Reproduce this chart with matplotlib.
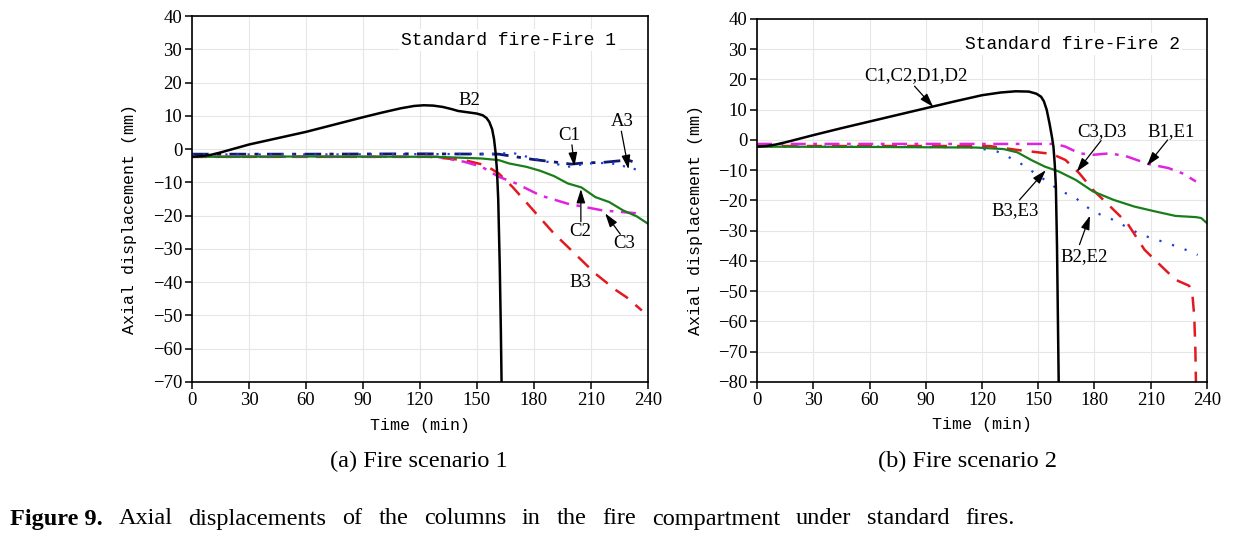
import matplotlib
matplotlib.use("Agg")
import matplotlib.pyplot as plt
import numpy as np

# ---- data: Fire scenario 1 (left) ----
t_b2_1 = [0, 5, 10, 15, 20, 25, 30, 45, 60, 75, 90, 100, 110, 117, 122, 127, 132, 137, 140,
          145, 150, 153, 155, 156.5, 158, 159, 159.8, 160.5, 161.2, 162, 162.6, 163]
v_b2_1 = [-2.3, -2.1, -1.7, -1.0, -0.2, 0.6, 1.4, 3.3, 5.2, 7.4, 9.6, 11.0, 12.3, 13.0, 13.2, 13.1,
          12.7, 12.0, 11.5, 11.1, 10.7, 10.2, 9.4, 8.2, 6.0, 3.0, -1.0, -6.0, -15.0, -35.0, -55.0, -72.0]

t_a3_1 = [0, 60, 120, 161.5, 170.6, 179.7, 190, 199.6, 206.9, 216, 225, 229.6, 235]
v_a3_1 = [-1.5, -1.5, -1.4, -1.5, -2.3, -3.1, -3.8, -4.5, -4.1, -4.0, -3.5, -3.3, -4.3]

t_c1_1 = [0, 60, 120, 160, 168.8, 179.7, 190, 197.8, 208.7, 219.6, 228.7, 235]
v_c1_1 = [-1.6, -1.6, -1.5, -1.4, -1.1, -2.8, -4.2, -5.3, -4.3, -4.1, -5.3, -6.3]

t_c2_1 = [0, 60, 128.9, 152.5, 161.5, 167, 176, 183.3, 190.6, 197.8, 205, 212.3, 219.6, 226.9, 234.1, 240]
v_c2_1 = [-2.3, -2.2, -2.3, -2.8, -3.3, -4.3, -5.3, -6.5, -8.1, -10.3, -11.5, -14.4, -15.9, -18.4, -20.2, -22.4]

t_c3_1 = [0, 60, 129, 143.4, 152.5, 161.5, 170.6, 183.3, 197.8, 216, 236.8]
v_c3_1 = [-2.3, -2.3, -2.3, -3.8, -5.3, -8.3, -10.3, -13.9, -16.4, -18.4, -19.4]

t_b3_1 = [0, 60, 125, 143.4, 154.3, 161.5, 168.8, 179.7, 190.6, 201.5, 212.3, 223.2, 228.7, 236.8]
v_b3_1 = [-2.3, -2.3, -2.3, -3.3, -4.8, -7.3, -11.4, -18.4, -25.4, -31.4, -37.4, -42.4, -44.5, -48.5]

# ---- data: Fire scenario 2 (right) ----
t_c1_2 = [0, 5, 10, 15, 20, 30, 45, 60, 75, 90, 105, 120, 130, 138, 145, 149, 151.5, 153,
          154.5, 156, 157.3, 158.1, 158.8, 159.4, 160, 160.5, 160.9]
v_c1_2 = [-2.2, -2.0, -1.5, -0.8, 0.0, 1.6, 3.9, 6.1, 8.3, 10.5, 12.7, 14.8, 15.7, 16.1, 16.0, 15.3,
          14.3, 12.8, 10.0, 5.5, 1.0, -2.2, -8.0, -15.4, -35.0, -60.0, -80.0]

t_b1_2 = [0, 60, 120, 159, 164.5, 171.9, 179.2, 188.4, 197.5, 208.5, 219.5, 226.8, 234.1]
v_b1_2 = [-1.3, -1.3, -1.3, -1.3, -2.2, -4.4, -4.9, -4.4, -5.5, -7.9, -9.3, -11.0, -13.7]

t_c3_2 = [0, 60, 124, 138.9, 157.2, 164.5, 171.9, 179.2, 188.4, 197.5, 206.7, 215.8, 223.2, 230.5, 232.3, 233.2, 233.8, 234.1]
v_c3_2 = [-2.0, -2.0, -2.0, -3.3, -4.6, -6.6, -11.0, -16.5, -22.0, -27.5, -36.3, -41.8, -46.2, -48.2, -51.7, -58.3, -69.3, -80]

t_b3_2 = [0, 60, 116.9, 131.5, 138.9, 146.2, 153.5, 160.9, 170, 179.2, 190.2, 201.2, 212.2, 223.2, 234.1, 236.9, 240]
v_b3_2 = [-2.2, -2.3, -2.5, -3.0, -4.1, -6.6, -8.8, -10.4, -13.2, -17.0, -19.8, -22.0, -23.6, -25.1, -25.5, -25.8, -27.5]

t_b2_2 = [0, 60, 115, 128, 139, 153.5, 161, 170, 179, 190, 204.8, 215.8, 226.8, 235]
v_b2_2 = [-2.2, -2.2, -2.4, -3.8, -7.1, -13.2, -16.5, -19.2, -23.6, -26.4, -31.3, -33.5, -35.8, -38.0]

x_ticks = [0, 30, 60, 90, 120, 150, 180, 210, 240]

BLACK = "#000000"
NAVY = "#101a6e"
BLUE = "#1f3fe0"
GREEN = "#1a7d1a"
MAGENTA = "#e023e0"
RED = "#e3191f"

serif = "Liberation Serif"
mono = "Liberation Mono"

fig = plt.figure(figsize=(12.41, 5.38), dpi=100)
ax1 = fig.add_axes([0.1547, 0.29, 0.3674, 0.680])
ax2 = fig.add_axes([0.61, 0.29, 0.3626, 0.6747])


def style_axes(ax, ylim, yticks, title, tx, ty):
    ax.set_xlim(0, 240)
    ax.set_ylim(*ylim)
    ax.set_xticks(x_ticks)
    ax.set_yticks(yticks)
    ax.grid(True, color="#e6e6e6", lw=0.8)
    ax.set_axisbelow(True)
    for s in ax.spines.values():
        s.set_linewidth(1.2)
    ax.tick_params(direction="out", length=5, width=1.1, pad=2,
                   top=False, right=False)
    for lab in ax.get_xticklabels() + ax.get_yticklabels():
        lab.set_fontfamily(serif)
        lab.set_fontsize(13.5)
    ax.set_xlabel("Time (min)", fontfamily=mono, fontsize=12)
    ax.set_ylabel("Axial displacement (mm)", fontfamily=mono, fontsize=12)
    ax.xaxis.label.set_verticalalignment("center")
    ax.yaxis.label.set_verticalalignment("center")
    ax.xaxis.set_label_coords(0.5, -0.118)
    ax.yaxis.set_label_coords(-0.137, 0.445)
    ax.text(tx, ty, title, transform=ax.transAxes, ha="center", va="center",
            fontfamily=mono, fontsize=13,
            bbox=dict(facecolor="white", edgecolor="none", pad=2), zorder=3)


def note(ax, text, pos, tail=None, tip=None):
    ax.text(pos[0], pos[1], text, ha="center", va="center",
            fontfamily=serif, fontsize=13.5)
    if tip is not None:
        ax.annotate("", xy=tip, xytext=tail,
                    arrowprops=dict(arrowstyle="-|>,head_length=0.7,head_width=0.22",
                                    color="black", lw=0.9, mutation_scale=12,
                                    shrinkA=0, shrinkB=0))


# left panel
ax1.plot(t_a3_1, v_a3_1, color=NAVY, lw=2, dashes=(6, 3, 1.5, 3))
ax1.plot(t_c1_1, v_c1_1, color=BLUE, lw=1.6, dashes=(1, 4))
ax1.plot(t_b3_1, v_b3_1, color=RED, lw=1.8, dashes=(6, 4))
ax1.plot(t_c3_1, v_c3_1, color=MAGENTA, lw=1.8, dashes=(6, 3, 1.5, 3))
ax1.plot(t_c2_1, v_c2_1, color=GREEN, lw=1.6)
ax1.plot(t_b2_1, v_b2_1, color=BLACK, lw=1.8)
style_axes(ax1, (-70, 40), np.arange(-70, 41, 10), "Standard fire-Fire 1", 0.695, 0.934)

note(ax1, "B2", (146, 14.5))
note(ax1, "B3", (204.7, -40))
note(ax1, "C1", (198.7, 4.2), (200, 1.3), (201.3, -5.2))
note(ax1, "A3", (226.6, 8.2), (226, 5.4), (229.8, -6))
note(ax1, "C2", (204.5, -24.8), (204.7, -21.8), (204.7, -12))
note(ax1, "C3", (227.6, -28.5), (225.5, -25.6), (217.5, -19.3))

# right panel
ax2.plot(t_b2_2, v_b2_2, color=BLUE, lw=1.6, dashes=(1, 5))
ax2.plot(t_c3_2, v_c3_2, color=RED, lw=1.8, dashes=(6, 4))
ax2.plot(t_b1_2, v_b1_2, color=MAGENTA, lw=1.8, dashes=(6, 3, 1.5, 3))
ax2.plot(t_b3_2, v_b3_2, color=GREEN, lw=1.6)
ax2.plot(t_c1_2, v_c1_2, color=BLACK, lw=1.8)
style_axes(ax2, (-80, 40), np.arange(-80, 41, 10), "Standard fire-Fire 2", 0.70, 0.931)

note(ax2, "C1,C2,D1,D2", (85, 21.2), (84, 17.8), (94, 10.9))
note(ax2, "C3,D3", (184, 2.8), (183.5, -0.2), (170.5, -10.5))
note(ax2, "B1,E1", (221, 2.8), (219, 0.0), (208, -8.5))
note(ax2, "B3,E3", (137.5, -23.5), (140, -19.8), (154, -10))
note(ax2, "B2,E2", (174.5, -38.7), (172, -34.6), (177.6, -25))

# sub captions
fig.text(419 / 1241, 1 - 461 / 538, "(a) Fire scenario 1", ha="center", va="center",
         fontfamily=serif, fontsize=17.5)
fig.text(968 / 1241, 1 - 461 / 538, "(b) Fire scenario 2", ha="center", va="center",
         fontfamily=serif, fontsize=17.5)

# justified figure caption
words = ["Axial", "displacements", "of", "the", "columns", "in", "the", "fire",
         "compartment", "under", "standard", "fires."]
y_cap = 1 - 519 / 538
x0, x1 = 10, 1015
renderer = fig.canvas.get_renderer()
items = [fig.text(0, y_cap, "Figure 9.", fontfamily=serif, fontsize=17.5,
                  fontweight="bold", va="center")]
for w in words:
    items.append(fig.text(0, y_cap, w, fontfamily=serif, fontsize=17.5, va="center"))
widths = [it.get_window_extent(renderer).width for it in items]
gap = (x1 - x0 - sum(widths)) / (len(items) - 1)
x = x0
for it, w in zip(items, widths):
    it.set_x(x / 1241)
    x += w + gap

fig.savefig("out.png", dpi=100)
